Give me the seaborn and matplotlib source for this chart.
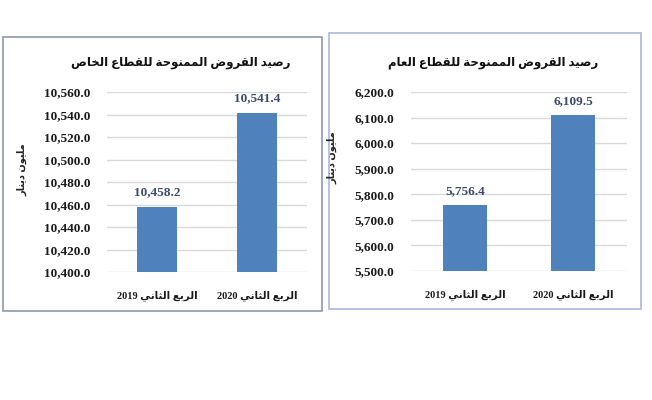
import matplotlib
matplotlib.use('Agg')
import matplotlib.pyplot as plt
import matplotlib.ticker as mticker
from matplotlib.patches import Rectangle
import seaborn as sns

quarters = ['الربع الثاني 2019', 'الربع الثاني 2020']
private_loans = [10458.2, 10541.4]
public_loans = [5756.4, 6109.5]
private_title = 'رصيد القروض الممنوحة للقطاع الخاص'
public_title = 'رصيد القروض الممنوحة للقطاع العام'
unit_label = 'مليون دينار'
private_ticks = [10400, 10420, 10440, 10460, 10480, 10500, 10520, 10540, 10560]
public_ticks = [5500, 5600, 5700, 5800, 5900, 6000, 6100, 6200]

# matplotlib has no arabic shaping, so pick presentation forms by hand
# letter: (isolated, final, initial, medial)
FORMS = {
    'ا': (0xFE8D, 0xFE8E, None, None), 'ب': (0xFE8F, 0xFE90, 0xFE91, 0xFE92),
    'ة': (0xFE93, 0xFE94, None, None), 'ت': (0xFE95, 0xFE96, 0xFE97, 0xFE98),
    'ث': (0xFE99, 0xFE9A, 0xFE9B, 0xFE9C), 'ح': (0xFEA1, 0xFEA2, 0xFEA3, 0xFEA4),
    'خ': (0xFEA5, 0xFEA6, 0xFEA7, 0xFEA8), 'د': (0xFEA9, 0xFEAA, None, None),
    'ر': (0xFEAD, 0xFEAE, None, None), 'ص': (0xFEB9, 0xFEBA, 0xFEBB, 0xFEBC),
    'ض': (0xFEBD, 0xFEBE, 0xFEBF, 0xFEC0), 'ط': (0xFEC1, 0xFEC2, 0xFEC3, 0xFEC4),
    'ع': (0xFEC9, 0xFECA, 0xFECB, 0xFECC), 'ق': (0xFED5, 0xFED6, 0xFED7, 0xFED8),
    'ل': (0xFEDD, 0xFEDE, 0xFEDF, 0xFEE0), 'م': (0xFEE1, 0xFEE2, 0xFEE3, 0xFEE4),
    'ن': (0xFEE5, 0xFEE6, 0xFEE7, 0xFEE8), 'و': (0xFEED, 0xFEEE, None, None),
    'ي': (0xFEF1, 0xFEF2, 0xFEF3, 0xFEF4),
}


def shape(word):
    out = []
    for i, ch in enumerate(word):
        if ch not in FORMS:
            out.append(ch)
            continue
        prev = word[i - 1] if i > 0 else ''
        nxt = word[i + 1] if i + 1 < len(word) else ''
        jp = prev in FORMS and FORMS[prev][2] is not None
        jn = FORMS[ch][2] is not None and nxt in FORMS
        f = FORMS[ch]
        code = f[3] if (jp and jn) else f[1] if jp else f[2] if jn else f[0]
        out.append(chr(code))
    return ''.join(out)


def rtl(text):
    words = text.split(' ')[::-1]
    return ' '.join(w if w.isdigit() else shape(w)[::-1] for w in words)


plt.rcParams['axes.unicode_minus'] = False
sns.set_style('white')
plt.rcParams['font.family'] = ['Liberation Serif', 'DejaVu Sans']

fig = plt.figure(figsize=(6.52, 4), dpi=100)

# outer frames of the two pasted charts
fig.patches.append(Rectangle((3 / 652, 1 - 311 / 400), 319 / 652, 274 / 400,
                             transform=fig.transFigure, fill=False,
                             edgecolor='#8b9aab', lw=1.2))
fig.patches.append(Rectangle((329 / 652, 1 - 309 / 400), 312 / 652, 276 / 400,
                             transform=fig.transFigure, fill=False,
                             edgecolor='#aab8db', lw=1.2))

panels = [
    ([107 / 652, 1 - 272 / 400, 200 / 652, 180 / 400], private_loans, private_ticks,
     private_title, 181, 22, 170),
    ([411 / 652, 1 - 271 / 400, 216 / 652, 179 / 400], public_loans, public_ticks,
     public_title, 493, 332, 158),
]

for rect, vals, ticks, title, tx, ux, uy in panels:
    ax = fig.add_axes(rect)
    labels = [rtl(q) for q in quarters]
    sns.barplot(x=labels, y=vals, ax=ax, color='#4f81bd', width=0.4,
                saturation=1, edgecolor='none')
    ax.set_ylim(ticks[0], ticks[-1])
    ax.set_xlim(-0.5, 1.5)
    ax.set_yticks(ticks)
    ax.yaxis.set_major_formatter(mticker.FuncFormatter(lambda v, p: f'{v:,.1f}'))
    ax.grid(axis='y', color='#d9d9d9', lw=1)
    ax.set_axisbelow(True)
    for s in ax.spines.values():
        s.set_visible(False)
    ax.tick_params(axis='both', length=0)
    ax.tick_params(axis='y', pad=12)
    ax.tick_params(axis='x', pad=13)
    for t in ax.get_yticklabels():
        t.set_fontweight('bold')
        t.set_fontsize(9.5)
        t.set_color('#1a1a1a')
    for t in ax.get_xticklabels():
        t.set_fontweight('bold')
        t.set_fontsize(7.5)
        t.set_color('#1a1a1a')
    for i, v in enumerate(vals):
        ax.annotate(f'{v:,.1f}', (i, v), xytext=(0, 6), textcoords='offset points',
                    ha='center', va='bottom', fontsize=9.5, fontweight='bold',
                    color='#3a4a6b')
    fig.text(tx / 652, 1 - 63 / 400, rtl(title), ha='center', va='center',
             fontsize=8.5, fontweight='bold', color='#111111')
    fig.text(ux / 652, 1 - uy / 400, rtl(unit_label), ha='center', va='center',
             rotation=90, fontsize=7, fontweight='bold', color='#222222')

fig.savefig('out.png', dpi=100)
